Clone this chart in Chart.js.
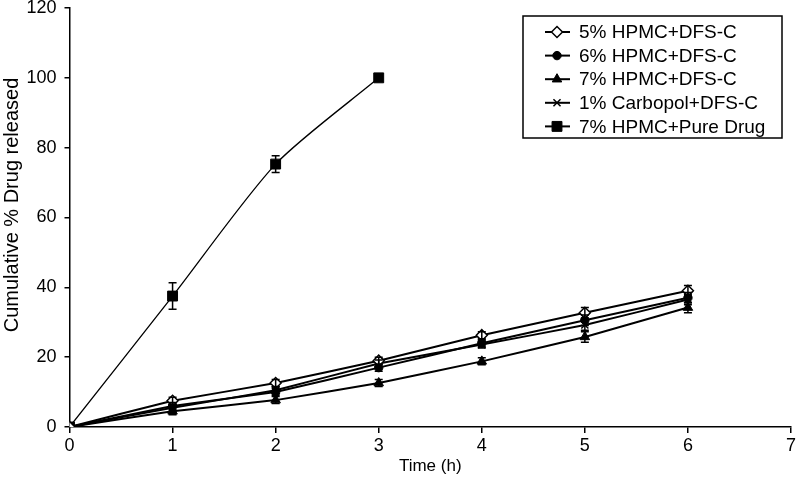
<!DOCTYPE html>
<html>
<head>
<meta charset="utf-8">
<script src="https://cdn.jsdelivr.net/npm/chart.js@4/dist/chart.umd.min.js"></script>
<style>
html,body{margin:0;padding:0;background:#fff;}
#wrap{width:799px;height:492px;position:relative;}
</style>
</head>
<body>
<div id="wrap"><canvas id="c" width="799" height="492"></canvas></div>
<script>
const timePoints = [0, 1, 2, 3, 4, 5, 6];
const seriesLabels = ["5% HPMC+DFS-C", "6% HPMC+DFS-C", "7% HPMC+DFS-C", "1% Carbopol+DFS-C", "7% HPMC+Pure Drug"];
const hpmc5 = [0, 7.5, 12.6, 19, 26.3, 32.7, 39];
const hpmc6 = [0, 6, 10, 17, 24, 30.6, 37];
const hpmc7 = [0, 4.5, 7.7, 12.6, 18.8, 25.8, 34.2];
const carbopol1 = [0, 5.5, 10.5, 18.2, 23.6, 29.2, 36.5];
const pureDrug = [0, 37.5, 75.3, 100];
const hpmc5Err = [0, 1, 1, 1, 1, 1.5, 1.5];
const hpmc6Err = [0, 1, 1, 1, 1, 1.5, 1.5];
const hpmc7Err = [0, 1, 1, 1, 1, 1.5, 1.5];
const carbopol1Err = [0, 1, 1, 1, 1, 1.5, 1.5];
const pureDrugErr = [0, 3.8, 2.4, 0.8];
const yTicks = [0, 20, 40, 60, 80, 100, 120];
const xTicks = [0, 1, 2, 3, 4, 5, 6, 7];
const xTitle = 'Time (h)';
const yTitle = 'Cumulative % Drug released';

const FONT = "'Liberation Sans', Arial, sans-serif";
function pts(xs, ys){ return ys.map((y,i)=>({x:xs[i], y:y})); }

const styles = [
  {pointStyle:'rectRot', radius:5.5, bg:'#fff', bw:1.5, lw:2},
  {pointStyle:'circle', radius:4.2, bg:'#000', bw:1, lw:2},
  {pointStyle:'triangle', radius:5.5, bg:'#000', bw:1, lw:2},
  {pointStyle:'crossRot', radius:5, bg:'#000', bw:1.5, lw:2},
  {pointStyle:'rect', radius:7, bg:'#000', bw:1, lw:1.3}
];
const values = [hpmc5, hpmc6, hpmc7, carbopol1, pureDrug];
const errs = [hpmc5Err, hpmc6Err, hpmc7Err, carbopol1Err, pureDrugErr];

const datasets = values.map((v,i)=>({
  label: seriesLabels[i],
  data: pts(timePoints, v),
  errors: errs[i],
  borderColor:'#000',
  backgroundColor: styles[i].bg,
  borderWidth: styles[i].lw,
  pointStyle: styles[i].pointStyle,
  pointRadius: styles[i].radius,
  pointBorderWidth: styles[i].bw,
  pointBackgroundColor: styles[i].bg,
  pointBorderColor:'#000',
  tension: i===4 ? 0.25 : 0.05,
  fill:false
}));

const errorBars = {
  id:'errorBars',
  afterDatasetsDraw(chart){
    const ctx = chart.ctx, ys = chart.scales.y;
    ctx.save();
    ctx.strokeStyle = '#000';
    ctx.lineWidth = 1.5;
    chart.data.datasets.forEach((ds, di)=>{
      const meta = chart.getDatasetMeta(di);
      meta.data.forEach((el, j)=>{
        const e = ds.errors[j];
        if(!e) return;
        const yv = ds.data[j].y;
        const x = el.x, y1 = ys.getPixelForValue(yv+e), y2 = ys.getPixelForValue(yv-e);
        ctx.beginPath();
        ctx.moveTo(x, y1); ctx.lineTo(x, y2);
        ctx.moveTo(x-4, y1); ctx.lineTo(x+4, y1);
        ctx.moveTo(x-4, y2); ctx.lineTo(x+4, y2);
        ctx.stroke();
      });
    });
    ctx.restore();
  }
};

const yTitlePlugin = {
  id:'yTitlePlugin',
  afterDraw(chart){
    const ctx = chart.ctx;
    ctx.save();
    ctx.translate(12, 205);
    ctx.rotate(-Math.PI/2);
    ctx.font = "20px " + FONT;
    ctx.fillStyle = '#000';
    ctx.textAlign = 'center';
    ctx.textBaseline = 'middle';
    ctx.fillText(yTitle, 0, 0);
    ctx.restore();
  }
};

const boxLegend = {
  id:'boxLegend',
  afterDraw(chart){
    const ctx = chart.ctx;
    const bx = 523, by = 16, bw = 259, bh = 122;
    ctx.save();
    ctx.fillStyle = '#fff';
    ctx.fillRect(bx, by, bw, bh);
    ctx.strokeStyle = '#000';
    ctx.lineWidth = 1.5;
    ctx.strokeRect(bx, by, bw, bh);
    ctx.font = "19px " + FONT;
    ctx.textBaseline = 'middle';
    ctx.textAlign = 'left';
    chart.data.datasets.forEach((ds, i)=>{
      const y = 32 + i*23.6;
      ctx.strokeStyle = '#000';
      ctx.lineWidth = 2;
      ctx.beginPath(); ctx.moveTo(545, y); ctx.lineTo(570, y); ctx.stroke();
      ctx.fillStyle = ds.pointBackgroundColor;
      ctx.lineWidth = ds.pointBorderWidth;
      Chart.helpers.drawPoint(ctx, {pointStyle: ds.pointStyle, radius: ds.pointRadius, borderWidth: ds.pointBorderWidth, rotation:0}, 557, y);
      ctx.fillStyle = '#000';
      ctx.fillText(ds.label, 579, y+1);
    });
    ctx.restore();
  }
};

new Chart(document.getElementById('c'), {
  type:'line',
  data:{datasets},
  plugins:[errorBars, boxLegend, yTitlePlugin],
  options:{
    responsive:false,
    animation:false,
    devicePixelRatio:1,
    layout:{padding:{left:0, right:5, top:7, bottom:0}},
    plugins:{legend:{display:false}, tooltip:{enabled:false}},
    scales:{
      x:{
        type:'linear', min:0, max:7,
        afterBuildTicks(s){ s.ticks = xTicks.map(v=>({value:v})); },
        afterFit(s){ s.height = 65; s.paddingLeft = 0; s.paddingRight = 0; },
        grid:{display:true, drawOnChartArea:false, drawTicks:true, tickLength:6, color:'#000', lineWidth:1.5},
        border:{color:'#000', width:1.5},
        ticks:{color:'#000', font:{family:FONT, size:18}, padding:2, maxRotation:0},
        title:{display:true, text:xTitle, color:'#000', font:{family:FONT, size:17}, padding:{top:0, bottom:15}}
      },
      y:{
        min:0, max:120,
        afterBuildTicks(s){ s.ticks = yTicks.map(v=>({value:v})); },
        afterFit(s){ s.width = 69.5; s.paddingTop = 0; s.paddingBottom = 0; },
        grid:{display:true, drawOnChartArea:false, drawTicks:true, tickLength:5, color:'#000', lineWidth:1.5},
        border:{color:'#000', width:1.5},
        ticks:{color:'#000', font:{family:FONT, size:18}, padding:8},
        title:{display:false}
      }
    }
  }
});
</script>
</body>
</html>
